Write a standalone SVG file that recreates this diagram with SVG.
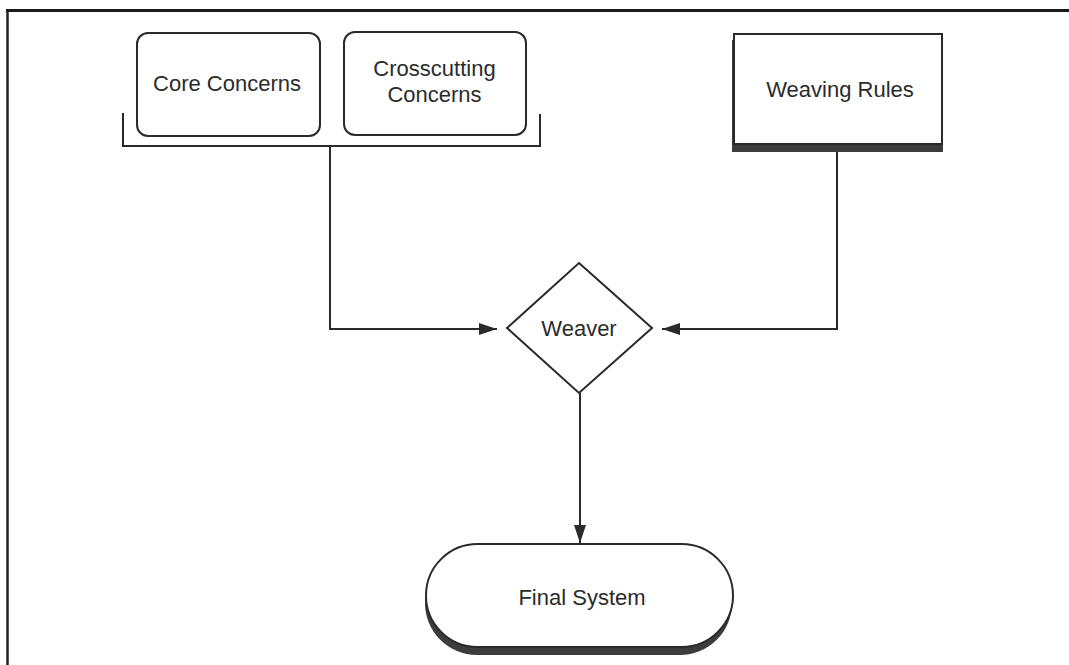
<svg xmlns="http://www.w3.org/2000/svg" width="1069" height="665" viewBox="0 0 1069 665">
  <defs>
    <style>
      .box { fill: #ffffff; stroke: #2a2a2a; stroke-width: 2; }
      .shadow { fill: #3c3c3c; stroke: none; }
      .wire { fill: none; stroke: #2a2a2a; stroke-width: 2; }
      .label { font-family: "Liberation Sans", Arial, sans-serif; font-size: 22px; fill: #2b2b2b; text-anchor: middle; }
    </style>
    <marker id="arrow" viewBox="0 0 18 12" refX="18" refY="6" markerWidth="18" markerHeight="12" markerUnits="userSpaceOnUse" orient="auto">
      <path d="M0,0 L18,6 L0,12 Z" fill="#2a2a2a"/>
    </marker>
  </defs>

  <rect width="1069" height="665" fill="#ffffff"/>

  <!-- page frame -->
  <g id="frame">
    <line x1="6" y1="10.5" x2="1069" y2="10.5" stroke="#1a1a1a" stroke-width="3"/>
    <line x1="7.5" y1="9" x2="7.5" y2="665" stroke="#222222" stroke-width="2.5"/>
  </g>

  <!-- connectors -->
  <g id="connectors">
    <path class="wire" d="M123,113 V146 H540 V114"/>
    <path class="wire" d="M330,146 V329 H497" marker-end="url(#arrow)"/>
    <path class="wire" d="M837,152 V329 H662" marker-end="url(#arrow)"/>
    <path class="wire" d="M580,393 V543" marker-end="url(#arrow)"/>
  </g>

  <g id="core-concerns">
    <rect class="box" x="137" y="33" width="183" height="103" rx="11"/>
    <text class="label" x="227" y="91">Core Concerns</text>
  </g>

  <g id="crosscutting-concerns">
    <rect class="box" x="344" y="32" width="182" height="103" rx="11"/>
    <text class="label" x="434.5" y="76">Crosscutting</text>
    <text class="label" x="434.5" y="102">Concerns</text>
  </g>

  <g id="weaving-rules">
    <rect class="shadow" x="732" y="40" width="211" height="112"/>
    <rect class="box" x="734" y="34" width="208" height="110" stroke-width="2.5"/>
    <text class="label" x="840" y="97">Weaving Rules</text>
  </g>

  <g id="weaver">
    <polygon class="box" points="579,263 652,328 579,393 507,328"/>
    <text class="label" x="579" y="336">Weaver</text>
  </g>

  <g id="final-system">
    <rect class="shadow" x="425" y="551" width="307" height="104" rx="52"/>
    <rect class="box" x="426" y="544" width="307" height="103" rx="51.5"/>
    <text class="label" x="582" y="605">Final System</text>
  </g>
</svg>
